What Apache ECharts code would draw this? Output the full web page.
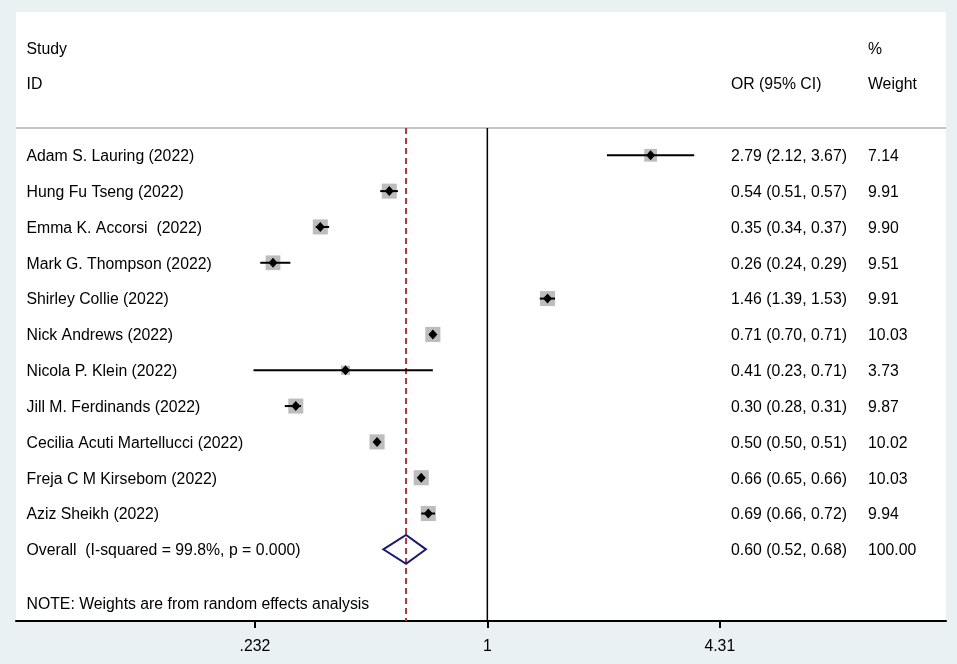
<!DOCTYPE html>
<html>
<head>
<meta charset="utf-8">
<script src="https://cdn.jsdelivr.net/npm/echarts@6/dist/echarts.min.js"></script>
<style>
  html, body { margin: 0; padding: 0; background: #e9f1f3; }
  #chart { width: 957px; height: 664px; }
</style>
</head>
<body>
<div id="chart"></div>
<script>
// study rows, top to bottom
const studies = [
  'Adam S. Lauring (2022)',
  'Hung Fu Tseng (2022)',
  'Emma K. Accorsi  (2022)',
  'Mark G. Thompson (2022)',
  'Shirley Collie (2022)',
  'Nick Andrews (2022)',
  'Nicola P. Klein (2022)',
  'Jill M. Ferdinands (2022)',
  'Cecilia Acuti Martellucci (2022)',
  'Freja C M Kirsebom (2022)',
  'Aziz Sheikh (2022)'
];
const orVals  = [2.79, 0.54, 0.35, 0.26, 1.46, 0.71, 0.41, 0.30, 0.50, 0.66, 0.69];
const ciLow   = [2.12, 0.51, 0.34, 0.24, 1.39, 0.70, 0.23, 0.28, 0.50, 0.65, 0.66];
const ciHigh  = [3.67, 0.57, 0.37, 0.29, 1.53, 0.71, 0.71, 0.31, 0.51, 0.66, 0.72];
const weights = [7.14, 9.91, 9.90, 9.51, 9.91, 10.03, 3.73, 9.87, 10.02, 10.03, 9.94];

const overallLabel = 'Overall  (I-squared = 99.8%, p = 0.000)';
const overall = [0.60, 0.52, 0.68, 100.00];
const noteText = 'NOTE: Weights are from random effects analysis';

const tickValues = [0.232, 1, 4.31];
const tickLabels = ['.232', '1', '4.31'];

const FONT = 'Arial, "Liberation Sans", sans-serif';
const chart = echarts.init(document.getElementById('chart'));

const studyData = studies.map((s, i) => [orVals[i], ciLow[i], ciHigh[i], weights[i], i + 1]);
const fmt = v => v.toFixed(2);
const ciText = (o, l, h) => fmt(o) + ' (' + fmt(l) + ', ' + fmt(h) + ')';

// text rows: [row, study, or text, weight text]
const textRows = [
  [-2, 'Study', '', '%'],
  [-1, 'ID', 'OR (95% CI)', 'Weight']
];
studies.forEach((s, i) => {
  textRows.push([i + 1, s, ciText(orVals[i], ciLow[i], ciHigh[i]), fmt(weights[i])]);
});
textRows.push([studies.length + 1, overallLabel, ciText(overall[0], overall[1], overall[2]), fmt(overall[3])]);
textRows.push([studies.length + 2.5, noteText, '', '']);

function textStyle(x, y, t) {
  return {
    type: 'text',
    style: { x: x, y: y + 1.5, text: t, fill: '#000', font: '15.8px ' + FONT, textVerticalAlign: 'middle' }
  };
}

const option = {
  backgroundColor: '#e9f1f3',
  animation: false,
  grid: {
    left: 16, right: 11, top: 12, bottom: 43,
    show: true, backgroundColor: '#fff', borderWidth: 0
  },
  xAxis: {
    type: 'log',
    logBase: 10,
    min: 0.0517,
    max: 17.86,
    axisLine: { show: true, onZero: false, lineStyle: { color: '#000', width: 2 } },
    axisTick: { show: true, customValues: tickValues, length: 7, lineStyle: { color: '#000', width: 2 } },
    axisLabel: {
      customValues: tickValues,
      formatter: v => tickLabels[tickValues.findIndex(t => Math.abs(t - v) < 1e-6)] || '',
      color: '#000', fontSize: 15.8, fontFamily: FONT, margin: 18
    },
    splitLine: { show: false }
  },
  yAxis: {
    type: 'value', inverse: true, min: -3, max: 14, show: false
  },
  series: [
    {
      // header separator + reference lines
      type: 'custom',
      data: [[1]],
      silent: true,
      renderItem: (params, api) => {
        const cs = params.coordSys;
        const yHead = api.coord([1, 0.24])[1];
        const yBot = api.coord([1, 14])[1];
        const xNull = api.coord([1, 0])[0];
        const xOv = api.coord([overall[0], 0])[0];
        return {
          type: 'group',
          children: [
            { type: 'line', shape: { x1: cs.x, y1: yHead, x2: cs.x + cs.width, y2: yHead },
              style: { stroke: '#c4c4c4', lineWidth: 2 } },
            { type: 'line', shape: { x1: xNull, y1: yHead, x2: xNull, y2: yBot },
              style: { stroke: '#000', lineWidth: 1.5 } },
            { type: 'line', shape: { x1: xOv, y1: yHead, x2: xOv, y2: yBot },
              style: { stroke: '#a33a40', lineWidth: 2, lineDash: [6, 4] } }
          ]
        };
      }
    },
    {
      // study estimates: weight box, CI line, point diamond
      type: 'custom',
      data: studyData,
      renderItem: (params, api) => {
        const row = api.value(4);
        const p = api.coord([api.value(0), row]);
        const pl = api.coord([api.value(1), row]);
        const ph = api.coord([api.value(2), row]);
        const side = 4.77 * Math.sqrt(api.value(3));
        return {
          type: 'group',
          children: [
            { type: 'rect', shape: { x: p[0] - side / 2, y: p[1] - side / 2, width: side, height: side },
              style: { fill: '#bdbdbd' } },
            { type: 'line', shape: { x1: pl[0], y1: p[1], x2: ph[0], y2: p[1] },
              style: { stroke: '#000', lineWidth: 2 } },
            { type: 'polygon', shape: { points: [[p[0] - 4.5, p[1]], [p[0], p[1] - 5], [p[0] + 4.5, p[1]], [p[0], p[1] + 5]] },
              style: { fill: '#000' } }
          ]
        };
      }
    },
    {
      // pooled estimate diamond
      type: 'custom',
      data: [[overall[0], overall[1], overall[2], studies.length + 1]],
      renderItem: (params, api) => {
        const row = api.value(3);
        const p = api.coord([api.value(0), row]);
        const pl = api.coord([api.value(1), row]);
        const ph = api.coord([api.value(2), row]);
        return {
          type: 'polygon',
          shape: { points: [[pl[0], p[1]], [p[0], p[1] - 14.5], [ph[0], p[1]], [p[0], p[1] + 14.5]] },
          style: { fill: 'rgba(255,255,255,0)', stroke: '#1b1b6b', lineWidth: 2 }
        };
      }
    },
    {
      // text columns
      type: 'custom',
      data: textRows.map(r => [1, r[0]]),
      silent: true,
      renderItem: (params, api) => {
        const cs = params.coordSys;
        const r = textRows[params.dataIndex];
        const y = api.coord([1, r[0]])[1];
        return {
          type: 'group',
          children: [
            textStyle(cs.x + 10.5, y, r[1]),
            textStyle(cs.x + 715, y, r[2]),
            textStyle(cs.x + 852, y, r[3])
          ]
        };
      }
    }
  ]
};

chart.setOption(option);
</script>
</body>
</html>
